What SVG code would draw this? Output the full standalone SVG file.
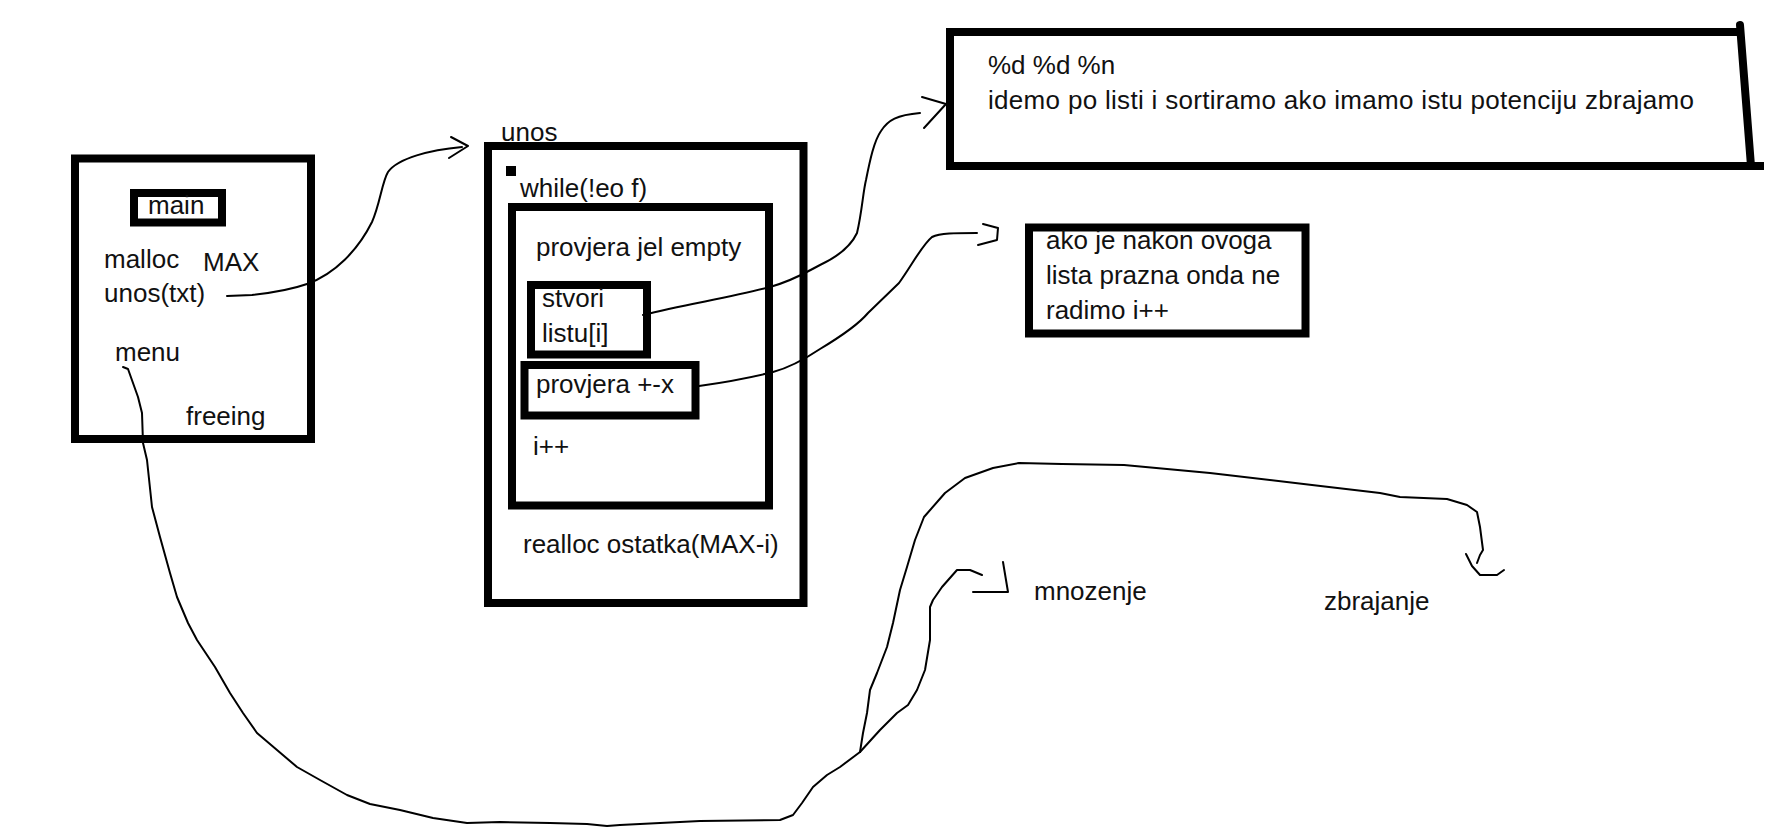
<svg xmlns="http://www.w3.org/2000/svg" width="1768" height="839" viewBox="0 0 1768 839">
<style>
  .box { fill: none; stroke: #000; stroke-width: 8; }
  .t { font-family: "Liberation Sans", Arial, sans-serif; font-size: 26px; fill: #111; }
  .c { fill: none; stroke: #000; stroke-width: 2; stroke-linejoin: round; stroke-linecap: round; }
</style>
<rect width="1768" height="839" fill="#fff"/>

<g id="node-main">
  <rect class="box" x="75" y="158.5" width="236" height="280.5"/>
  <rect class="box" x="134" y="193" width="88" height="29.5"/>
  <text class="t" x="148" y="214">main</text>
  <text class="t" x="104" y="268">malloc</text>
  <text class="t" x="203" y="271">MAX</text>
  <text class="t" x="104" y="302">unos(txt)</text>
  <text class="t" x="115" y="361">menu</text>
  <text class="t" x="186" y="425">freeing</text>
</g>

<g id="node-unos">
  <text class="t" x="501" y="141">unos</text>
  <rect class="box" x="488" y="146" width="315.5" height="457"/>
  <rect x="506" y="166" width="10" height="10" fill="#000"/>
  <text class="t" x="520" y="197">while(!eo f)</text>
  <text class="t" x="523" y="553">realloc ostatka(MAX-i)</text>
</g>

<g id="node-while">
  <rect class="box" x="512" y="207" width="257" height="298.5"/>
  <text class="t" x="536" y="256">provjera jel empty</text>
  <text class="t" x="533" y="455">i++</text>
</g>

<g id="node-stvori">
  <rect class="box" x="531" y="285" width="116" height="69.5"/>
  <text class="t" x="542" y="307">stvori</text>
  <text class="t" x="542" y="342">listu[i]</text>
</g>

<g id="node-provjera">
  <rect class="box" x="524.5" y="365" width="171" height="50.5"/>
  <text class="t" x="536" y="393">provjera +-x</text>
</g>

<g id="node-format">
  <path class="box" d="M946,32 L1742,32"/>
  <path class="box" d="M950,28 L950,170"/>
  <path class="box" d="M946,166 L1764,166"/>
  <path class="box" d="M1740,25 L1751,166" stroke-linecap="round"/>
  <text class="t" x="988" y="74">%d %d %n</text>
  <text class="t" x="988" y="109" textLength="706">idemo po listi i sortiramo ako imamo istu potenciju zbrajamo</text>
</g>

<g id="node-empty">
  <rect class="box" x="1029" y="227.5" width="276.5" height="106"/>
  <text class="t" x="1046" y="249">ako je nakon ovoga</text>
  <text class="t" x="1046" y="284">lista prazna onda ne</text>
  <text class="t" x="1046" y="319">radimo i++</text>
</g>

<g id="node-mnozenje">
  <text class="t" x="1034" y="600">mnozenje</text>
</g>

<g id="node-zbrajanje">
  <text class="t" x="1324" y="610">zbrajanje</text>
</g>

<g id="connectors">
  <path class="c" d="M227,296 L252,295 C270,293 290,290 307,284 C335,274 358,250 372,222 C380,204 382,182 388,172 C398,158 430,150 462,147"/>
  <path class="c" d="M451,137 L468,146 L449,158"/>

  <path class="c" d="M643,315 C685,304 730,298 770,287 C795,280 810,270 820,265 C835,258 850,248 857,233 C862,212 863,192 866,180 C870,160 874,141 881,131 C888,120 897,115 920,113"/>
  <path class="c" d="M922,97 L946,104 L924,128"/>

  <path class="c" d="M699,386 C720,383 745,379 773,372 C792,367 808,357 820,349 C840,337 858,325 868,313 L899,283 C912,265 922,245 932,237 C940,233 955,233 977,233"/>
  <path class="c" d="M983,224 L998,228 L997,240 L978,245"/>

  <polyline class="c" points="123,367 128,369 138,397 142,413 143,443 147,460 152,507 160,537 170,573 177,597 188,623 197,640 215,667 230,693 243,713 257,733 277,750 297,767 320,780 347,795 370,804 400,810 433,818 467,823 500,822 550,823 587,824 607,826 620,825 700,821 780,820 793,815 802,803 813,787 827,775 840,767 860,752"/>
  <polyline class="c" points="860,752 863,733 867,713 870,690 877,673 887,647 893,623 900,590 907,567 915,540 924,517 945,493 965,478 993,468 1019,463 1062,464 1124,465 1210,473 1312,485 1380,493 1400,497 1447,499 1467,505 1477,512 1480,527 1483,550 1480,555 1477,563"/>
  <path class="c" d="M1466,554 L1472,566 L1480,575 L1497,575 L1504,570"/>
  <polyline class="c" points="860,752 880,730 897,713 908,705 917,690 925,670 930,640 930,607 933,600 942,587 957,570 970,570 982,575"/>
  <path class="c" d="M973,592 L1008,592 L1003,562"/>
</g>
</svg>
